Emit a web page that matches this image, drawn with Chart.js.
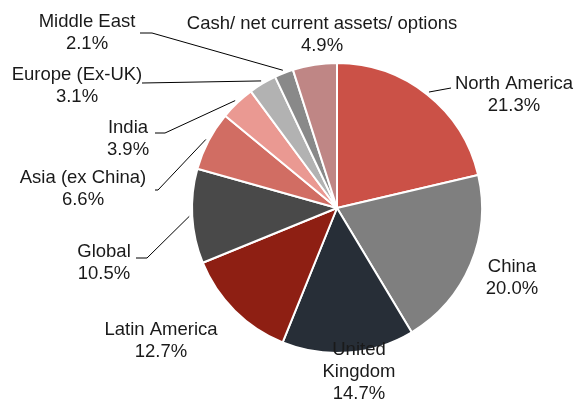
<!DOCTYPE html>
<html>
<head>
<meta charset="utf-8">
<script src="https://cdn.jsdelivr.net/npm/chart.js@4"></script>
<style>
  html, body { margin: 0; padding: 0; background: #fff; }
  #wrap { width: 576px; height: 400px; }
</style>
</head>
<body>
<div id="wrap"><canvas id="chart" width="576" height="400"></canvas></div>
<script>
// data
const regions = ['North America', 'China', 'United\nKingdom', 'Latin America', 'Global',
  'Asia (ex China)', 'India', 'Europe (Ex-UK)', 'Middle East', 'Cash/ net current assets/ options'];
const shares = [21.3, 20.0, 14.7, 12.7, 10.5, 6.6, 3.9, 3.1, 2.1, 4.9];
const sliceColors = ['#CB5147', '#7F7F7F', '#272E37', '#8E1F13', '#494949',
  '#D16D63', '#EA9992', '#B2B2B2', '#898989', '#BF8685'];

// label layout: text centre (x, first line y), optional leader end and elbow
const labelLayout = [
  { x: 514, y: 84, end: [451, 88] },
  { x: 512, y: 267 },
  { x: 359, y: 350 },
  { x: 161, y: 330 },
  { x: 104, y: 252, end: [136, 258], elbow: [147, 258] },
  { x: 83, y: 178, end: [155, 190], elbow: [158, 190] },
  { x: 128, y: 128, end: [155, 133], elbow: [165, 133] },
  { x: 77, y: 75, end: [142, 83] },
  { x: 87, y: 22, end: [140, 33], elbow: [152, 33] },
  { x: 322, y: 24 }
];

const labelPlugin = {
  id: 'pieLabels',
  afterDatasetsDraw(chart) {
    const ctx = chart.ctx;
    const meta = chart.getDatasetMeta(0);
    ctx.save();
    ctx.font = '18.5px "Liberation Sans", Arial, sans-serif';
    ctx.fillStyle = '#1a1a1a';
    ctx.textAlign = 'center';
    ctx.textBaseline = 'middle';
    meta.data.forEach((arc, i) => {
      const p = arc.getProps(['x', 'y', 'startAngle', 'endAngle', 'outerRadius'], true);
      const lay = labelLayout[i];
      if (lay.end) {
        const mid = (p.startAngle + p.endAngle) / 2;
        const r = p.outerRadius + 3;
        ctx.beginPath();
        ctx.moveTo(p.x + Math.cos(mid) * r, p.y + Math.sin(mid) * r);
        if (lay.elbow) ctx.lineTo(lay.elbow[0], lay.elbow[1]);
        ctx.lineTo(lay.end[0], lay.end[1]);
        ctx.strokeStyle = '#000';
        ctx.lineWidth = 1;
        ctx.stroke();
      }
      const lines = regions[i].split('\n');
      lines.push(shares[i].toFixed(1) + '%');
      lines.forEach((t, k) => ctx.fillText(t, lay.x, lay.y + k * 22));
    });
    ctx.restore();
  }
};

new Chart(document.getElementById('chart'), {
  type: 'pie',
  data: {
    labels: regions,
    datasets: [{
      data: shares,
      backgroundColor: sliceColors,
      borderColor: '#fff',
      borderWidth: 2
    }]
  },
  options: {
    responsive: false,
    animation: false,
    layout: { padding: { left: 191, right: 93, top: 62, bottom: 46 } },
    plugins: { legend: { display: false }, tooltip: { enabled: false } }
  },
  plugins: [labelPlugin]
});
</script>
</body>
</html>
